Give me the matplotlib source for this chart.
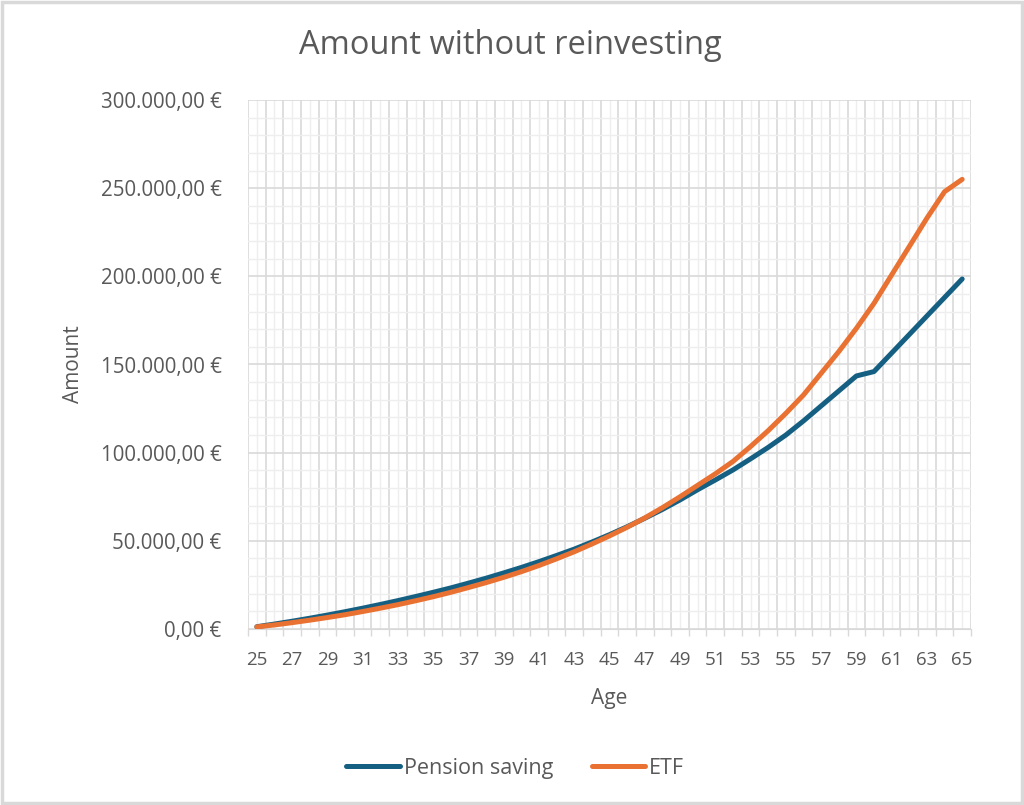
import matplotlib
matplotlib.use("Agg")
import numpy as np
import matplotlib.pyplot as plt
from matplotlib.ticker import FuncFormatter, MultipleLocator, FixedLocator
from matplotlib.patches import Rectangle

ages = list(range(25, 66))
pension = [1.3, 2.8, 4.4, 6.1, 7.9, 9.8, 11.8, 13.9, 16.1, 18.4,
           20.8, 23.3, 26.0, 28.8, 31.8, 34.9, 38.2, 41.7, 45.3, 49.3,
           53.5, 58.0, 62.8, 67.8, 73.2, 79.0, 84.5, 90.2, 96.5, 103.0,
           110.0, 118.0, 126.5, 135.0, 143.5, 146.0, 156.5, 167.0, 177.5, 188.0,
           198.5]
etf = [1.2, 2.3, 3.6, 5.0, 6.5, 8.1, 9.9, 11.8, 13.8, 16.0,
       18.3, 20.8, 23.5, 26.3, 29.3, 32.5, 36.0, 39.8, 43.8, 48.2,
       52.8, 57.7, 63.0, 68.8, 75.0, 81.5, 88.0, 95.0, 103.5, 112.5,
       122.3, 132.7, 145.0, 157.3, 170.5, 184.7, 200.8, 216.9, 233.0, 248.0,
       255.0]
pension = [v * 1000 for v in pension]
etf = [v * 1000 for v in etf]

blue = "#156082"
orange = "#E97132"
grey_txt = "#595959"

plt.rcParams['font.family'] = ['Open Sans', 'DejaVu Sans']

fig = plt.figure(figsize=(10.24, 8.05), dpi=100)
ax = fig.add_axes([248/1024, 1-629/805, (971-248)/1024, (629-100)/805])

ax.plot(ages, pension, color=blue, lw=3.6, solid_capstyle='round', solid_joinstyle='round',
        label="Pension saving", zorder=3)
ax.plot(ages, etf, color=orange, lw=3.6, solid_capstyle='round', solid_joinstyle='round',
        label="ETF", zorder=4)

ax.set_xlim(24.5, 65.5)
ax.set_ylim(0, 300000)

# category boundaries -> major gridlines / tick marks
ax.xaxis.set_major_locator(FixedLocator(np.arange(24.5, 66, 1)))
ax.xaxis.set_minor_locator(FixedLocator(ages))
ax.set_xticklabels([])
for a in ages[::2]:
    ax.text(a, -0.059, str(a), transform=ax.get_xaxis_transform(), ha='center', va='center',
            fontsize=13.5, color=grey_txt)
ax.tick_params(axis='x', which='major', length=5, color="#d9d9d9", width=1)
ax.tick_params(axis='x', which='minor', length=0)

ax.yaxis.set_major_locator(MultipleLocator(50000))
ax.yaxis.set_minor_locator(MultipleLocator(10000))
ax.yaxis.set_major_formatter(FuncFormatter(lambda v, p: "{:,.2f} €".format(v).replace(",", "X").replace(".", ",").replace("X", ".")))
ax.tick_params(axis='y', which='both', length=0, labelsize=14.8, labelcolor=grey_txt, pad=19)

ax.grid(which='major', color="#d9d9d9", lw=1.2, zorder=0)
ax.grid(which='minor', color="#eeeeee", lw=1.0, zorder=0)
ax.set_axisbelow(True)
for s in ax.spines.values():
    s.set_visible(False)
ax.spines['bottom'].set_visible(True)
ax.spines['bottom'].set_color("#d9d9d9")

ax.set_xlabel("Age", fontsize=15, color=grey_txt)
ax.set_ylabel("Amount", fontsize=15, color=grey_txt)
ax.xaxis.set_label_coords(0.5, -(688-629)/529)
ax.yaxis.set_label_coords((84-248)/723, 0.5)

fig.text(0.498, 1-45/805, "Amount without reinvesting", ha='center', va='center',
         fontsize=23.5, color=grey_txt)

fig.legend(loc='center', bbox_to_anchor=(0.503, 1-768/805), ncol=2, frameon=False,
           fontsize=15.5, labelcolor=grey_txt, handlelength=2.5, handletextpad=0.15,
           columnspacing=1.8)

fig.patches.append(Rectangle((0.002, 0.002), 0.996, 0.996, transform=fig.transFigure,
                             fill=False, edgecolor="#d9d9d9", lw=2.5))

fig.savefig("out.png", dpi=100)
